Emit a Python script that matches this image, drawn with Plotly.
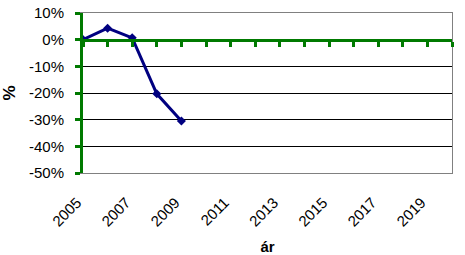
import plotly.graph_objects as go

years = [2005, 2006, 2007, 2008, 2009]
values = [0.0, 4.3, 0.7, -20.3, -30.5]
x_label_years = [2005, 2007, 2009, 2011, 2013, 2015, 2017, 2019]
y_ticks = [10, 0, -10, -20, -30, -40, -50]
y_tick_text = ["10%", "0%", "-10%", "-20%", "-30%", "-40%", "-50%"]

GREEN = "#007A00"
NAVY = "#000080"
FONT = "Liberation Sans, Arial, sans-serif"

fig = go.Figure()
fig.add_trace(go.Scatter(
    x=years, y=values, mode="lines+markers",
    line=dict(color=NAVY, width=3),
    marker=dict(symbol="diamond", size=7, color=NAVY),
    showlegend=False, cliponaxis=False,
))

y0, y1 = -50, 10
zero_pos = (0 - y0) / (y1 - y0)

fig.update_layout(
    width=465, height=255,
    margin=dict(l=83, r=13, t=13, b=82),
    paper_bgcolor="white", plot_bgcolor="white",
    font=dict(family=FONT, size=15, color="black"),
    xaxis=dict(
        range=[2005, 2020], tickvals=x_label_years,
        ticktext=[str(v) for v in x_label_years],
        tickangle=-45, showgrid=False, zeroline=False,
        showline=True, linecolor="#808080", linewidth=1, mirror=True,
        ticks="", ticklabelstandoff=14, ticklabelshift=-6, automargin=False,
        title=dict(text="<b>ár</b>", font=dict(size=15), standoff=14),
    ),
    xaxis2=dict(
        range=[2005, 2020], overlaying="x", anchor="free", position=zero_pos,
        side="bottom", dtick=1, tick0=2005, showticklabels=False,
        showgrid=False, zeroline=False, automargin=False,
        showline=True, linecolor=GREEN, linewidth=3,
        ticks="outside", ticklen=5, tickwidth=3, tickcolor=GREEN,
    ),
    yaxis=dict(
        range=[y0, y1], tickvals=y_ticks, ticktext=y_tick_text,
        showgrid=True, gridcolor="black", gridwidth=1, zeroline=False,
        showline=True, linecolor=GREEN, linewidth=3,
        ticks="outside", ticklen=5, tickwidth=3, tickcolor=GREEN,
        ticklabelstandoff=8, automargin=False,
        title=dict(text="<b>%</b>", font=dict(size=17), standoff=10),
    ),
    yaxis2=dict(
        range=[y0, y1], overlaying="y", side="right", showticklabels=False,
        showgrid=False, zeroline=False, ticks="", automargin=False,
        showline=True, linecolor="#808080", linewidth=1,
    ),
)
fig.add_trace(go.Scatter(x=[], y=[], xaxis="x2", yaxis="y2", showlegend=False))

fig.write_html("out.html")
